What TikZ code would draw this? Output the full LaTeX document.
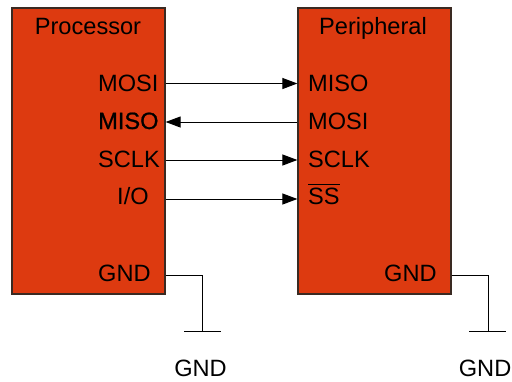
\documentclass[tikz,border=0pt]{standalone}
\usepackage{fontspec}
\setmainfont{Liberation Sans}
\newfontfamily\fakebold[FakeBold=0.8]{Liberation Sans}
\usetikzlibrary{arrows.meta}
\definecolor{chipred}{HTML}{DD3A10}
\definecolor{chipedge}{HTML}{3A2A22}
\tikzset{
  x=1pt, y=-1pt,
  chip/.style={draw=chipedge, line width=1.2pt, fill=chipred},
  lbl/.style={font=\fontsize{23.6}{25}\selectfont, inner sep=0pt, text=black},
  wire/.style={draw=black, line width=1pt},
  sig/.style={wire, -{Triangle[length=15pt, width=11pt]}},
}
\begin{document}
\begin{tikzpicture}
\useasboundingbox (0,0) rectangle (512,381);
% boxes
\node[chip, minimum width=153pt, minimum height=286pt, inner sep=0pt] (proc) at (88.5,151) {};
\node[chip, minimum width=153pt, minimum height=286pt, inner sep=0pt] (peri) at (374.5,151) {};
% titles
\node[lbl, anchor=base] (ptitle) at (88,34) {Processor};
\node[lbl, anchor=base] (rtitle) at (373,34) {Peripheral};
% left labels
\node[lbl, anchor=base west] (lmosi) at (98,91.7) {MOSI};
\node[lbl, anchor=base west] (lmiso) at (98,129) {\fakebold MISO};
\node[lbl, anchor=base west] (lsclk) at (98,167) {SCLK};
\node[lbl, anchor=base west] (lio) at (117,204.5) {I/O};
\node[lbl, anchor=base west] (lgnd) at (98,281) {GND};
% right labels
\node[lbl, anchor=base west] (rmiso) at (308,91.7) {MISO};
\node[lbl, anchor=base west] (rmosi) at (308,129) {MOSI};
\node[lbl, anchor=base west] (rsclk) at (308,167) {SCLK};
\node[lbl, anchor=base west] (rss) at (308,204.5) {SS};
\draw[line width=1pt] ([yshift=3pt]rss.north west) -- ([yshift=3pt]rss.north east);
\node[lbl, anchor=base west] (rgnd) at (384,281) {GND};
% signal coordinates
\coordinate (a1) at (165.6,83.5);
\coordinate (b1) at (297.4,83.5);
\coordinate (a2) at (165.6,122);
\coordinate (b2) at (297.4,122);
\coordinate (a3) at (165.6,160);
\coordinate (b3) at (297.4,160);
\coordinate (a4) at (165.6,199);
\coordinate (b4) at (297.4,199);
\draw[sig] (a1) -- (b1);
\draw[sig] (b2) -- (a2);
\draw[sig] (a3) -- (b3);
\draw[sig] (a4) -- (b4);
% grounds
\coordinate (g1s) at (165.6,275);
\coordinate (g1) at (202,331.5);
\coordinate (g1l) at (184,331.5);
\coordinate (g1r) at (221,331.5);
\coordinate (g2s) at (451.6,275);
\coordinate (g2) at (488,331.5);
\coordinate (g2l) at (469,331.5);
\coordinate (g2r) at (506,331.5);
\draw[wire] (g1s) -| (g1);
\draw[wire] (g1l) -- (g1r);
\draw[wire] (g2s) -| (g2);
\draw[wire] (g2l) -- (g2r);
\node[lbl, anchor=base] (gnd1) at (200.5,376.7) {GND};
\node[lbl, anchor=base east] (gnd2) at (511.5,376.7) {GND};
\end{tikzpicture}
\end{document}
